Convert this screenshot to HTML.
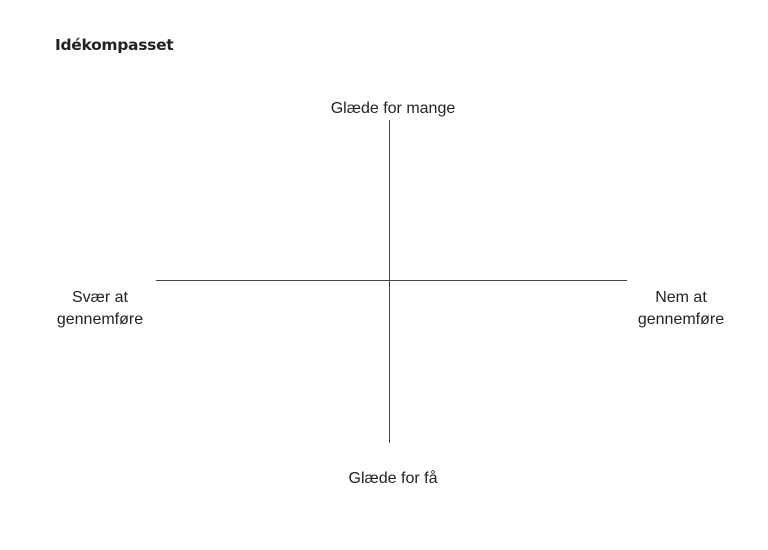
<!DOCTYPE html>
<html><head><style>
body{margin:0;width:768px;height:550px;background:#fff;position:relative;overflow:hidden;font-family:"Liberation Sans",sans-serif;color:#222}
.t{position:absolute;font-size:16px;text-align:center;line-height:22px;white-space:nowrap}
</style></head><body>
<div style="position:absolute;left:55px;top:36px;font-size:15.5px;font-weight:900;font-family:'DejaVu Sans',sans-serif;letter-spacing:-0.3px;color:#222">Idékompasset</div>
<div class="t" style="left:293px;width:200px;top:98px">Glæde for mange</div>
<div class="t" style="left:293px;width:200px;top:468px">Glæde for få</div>
<div class="t" style="left:40px;width:120px;top:287px">Svær at<br>gennemføre</div>
<div class="t" style="left:621px;width:120px;top:287px">Nem at<br>gennemføre</div>
<div style="position:absolute;left:156px;top:280px;width:471px;height:1px;background:#444"></div>
<div style="position:absolute;left:389px;top:120px;width:1px;height:323px;background:#444"></div>
</body></html>
